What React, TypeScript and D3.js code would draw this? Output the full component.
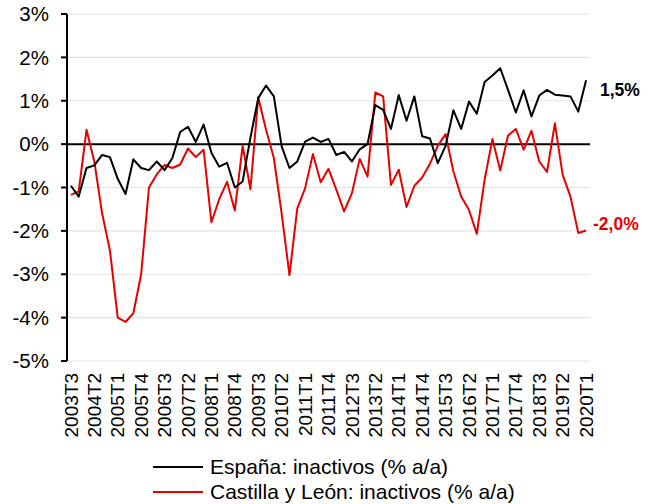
import React from "react";
import * as d3 from "d3";

const categories = [
  "2003T3","2003T4","2004T1","2004T2","2004T3","2004T4","2005T1","2005T2","2005T3","2005T4",
  "2006T1","2006T2","2006T3","2006T4","2007T1","2007T2","2007T3","2007T4","2008T1","2008T2",
  "2008T3","2008T4","2009T1","2009T2","2009T3","2009T4","2010T1","2010T2","2010T3","2010T4",
  "2011T1","2011T2","2011T3","2011T4","2012T1","2012T2","2012T3","2012T4","2013T1","2013T2",
  "2013T3","2013T4","2014T1","2014T2","2014T3","2014T4","2015T1","2015T2","2015T3","2015T4",
  "2016T1","2016T2","2016T3","2016T4","2017T1","2017T2","2017T3","2017T4","2018T1","2018T2",
  "2018T3","2018T4","2019T1","2019T2","2019T3","2019T4","2020T1"
];

const espana = [
  -0.96,-1.21,-0.55,-0.49,-0.25,-0.30,-0.80,-1.15,-0.35,-0.55,
  -0.60,-0.40,-0.60,-0.32,0.28,0.40,0.05,0.45,-0.20,-0.52,
  -0.43,-1.00,-0.86,0.15,1.06,1.35,1.10,-0.05,-0.55,-0.40,
  0.06,0.15,0.05,0.12,-0.25,-0.18,-0.40,-0.12,0.00,0.90,
  0.79,0.35,1.13,0.54,1.10,0.18,0.13,-0.44,-0.04,0.78,
  0.35,0.98,0.70,1.43,1.58,1.75,1.25,0.73,1.24,0.64,
  1.12,1.25,1.14,1.12,1.10,0.75,1.47
];

const castilla = [
  -1.17,-1.09,0.33,-0.40,-1.60,-2.45,-4.00,-4.10,-3.90,-3.00,
  -1.00,-0.70,-0.48,-0.55,-0.47,-0.10,-0.30,-0.13,-1.80,-1.27,
  -0.87,-1.53,-0.04,-1.04,1.08,0.33,-0.32,-1.60,-3.02,-1.48,
  -1.02,-0.23,-0.88,-0.57,-1.05,-1.55,-1.13,-0.34,-0.75,1.19,
  1.10,-0.94,-0.59,-1.45,-0.96,-0.77,-0.45,-0.04,0.23,-0.63,
  -1.21,-1.52,-2.07,-0.82,0.12,-0.61,0.20,0.35,-0.13,0.31,
  -0.40,-0.64,0.48,-0.71,-1.21,-2.05,-1.99
];

const yTicks = [3, 2, 1, 0, -1, -2, -3, -4, -5];
const tickLabels = [
  "2003T3","2004T2","2005T1","2005T4","2006T3","2007T2","2008T1","2008T4","2009T3","2010T2",
  "2011T1","2011T4","2012T3","2013T2","2014T1","2014T4","2015T3","2016T2","2017T1","2017T4",
  "2018T3","2019T2","2020T1"
];
const seriesNames = ["España: inactivos (% a/a)", "Castilla y León: inactivos (% a/a)"];
const endLabels = ["1,5%", "-2,0%"];

const BLACK = "#000000";
const RED = "#e60000";
const FONT = "'Liberation Sans', Arial, sans-serif";

export default function App() {
  const W = 658, H = 504;
  const left = 67, right = 590, top = 14, bottom = 361;

  const x = d3.scaleBand<string>().domain(categories).range([left, right]).padding(0);
  const cx = (c: string) => (x(c) as number) + x.bandwidth() / 2;
  const y = d3.scaleLinear().domain([-5, 3]).range([bottom, top]);

  const line = d3
    .line<number>()
    .x((_, i) => cx(categories[i]))
    .y((d) => y(d));

  return (
    <svg width={W} height={H} style={{ position: "absolute", left: 0, top: 0, background: "#fff" }}>
      {yTicks.filter((t) => t !== 0).map((t) => (
        <line key={"g" + t} x1={left} x2={right} y1={y(t)} y2={y(t)} stroke="#e3e3e3" strokeWidth={1.2} />
      ))}
      <line x1={left} x2={left} y1={top} y2={bottom} stroke={BLACK} strokeWidth={2} />
      {yTicks.map((t) => (
        <g key={"t" + t}>
          <line x1={left - 6} x2={left} y1={y(t)} y2={y(t)} stroke={BLACK} strokeWidth={2} />
          <text x={49} y={y(t)} dy="0.35em" textAnchor="end" fontFamily={FONT} fontSize={20.5} fill="#000">
            {t + "%"}
          </text>
        </g>
      ))}
      <line x1={left} x2={right} y1={y(0)} y2={y(0)} stroke={BLACK} strokeWidth={2} />
      {tickLabels.map((c) => (
        <text
          key={c}
          transform={`translate(${cx(c)},373) rotate(-90)`}
          textAnchor="end"
          dy="0.35em"
          fontFamily={FONT}
          fontSize={19}
          fill="#000"
        >
          {c}
        </text>
      ))}
      <path d={line(castilla) || ""} fill="none" stroke={RED} strokeWidth={2} strokeLinejoin="round" />
      <path d={line(espana) || ""} fill="none" stroke={BLACK} strokeWidth={2} strokeLinejoin="round" />
      <text x={600} y={90} dy="0.35em" fontFamily={FONT} fontWeight="bold" fontSize={17.5} fill={BLACK}>
        {endLabels[0]}
      </text>
      <text x={593} y={224} dy="0.35em" fontFamily={FONT} fontWeight="bold" fontSize={17.5} fill={RED}>
        {endLabels[1]}
      </text>
      {seriesNames.map((s, i) => (
        <g key={s}>
          <line x1={153} x2={203} y1={467 + i * 25} y2={467 + i * 25} stroke={i === 0 ? BLACK : RED} strokeWidth={2} />
          <text x={210} y={467 + i * 25} dy="0.35em" fontFamily={FONT} fontSize={21} fill="#000">
            {s}
          </text>
        </g>
      ))}
    </svg>
  );
}
